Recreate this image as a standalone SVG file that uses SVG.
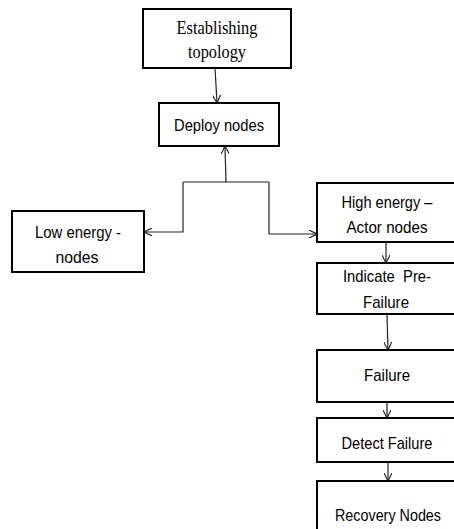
<svg xmlns="http://www.w3.org/2000/svg" width="454" height="529" viewBox="0 0 454 529">
<style>
.box{fill:#fff;stroke:#000;stroke-width:2}
.t{font-family:"Liberation Sans",Arial,sans-serif;font-size:17px;fill:#000;text-anchor:middle}
.s{font-family:"Liberation Serif","Times New Roman",serif;font-size:18px;fill:#000;text-anchor:middle}
.c{fill:none;stroke:#222;stroke-width:1.2}
</style>
<defs>
<marker id="a" viewBox="0 0 10 10" refX="10" refY="5" markerWidth="8" markerHeight="8" orient="auto" markerUnits="userSpaceOnUse">
<path d="M0,0 L10,5 L0,10" fill="none" stroke="#222" stroke-width="1.4"/>
</marker>
</defs>
<rect width="454" height="529" fill="#fff"/>
<g id="connectors">
<path class="c" d="M215,68 L217,103" marker-end="url(#a)"/>
<path class="c" d="M226,182 L225,146" marker-end="url(#a)"/>
<path class="c" d="M183,182 L269,182"/>
<path class="c" d="M183,182 L183,232 L144,232" marker-end="url(#a)"/>
<path class="c" d="M269,182 L269,234 L317,234" marker-end="url(#a)"/>
<path class="c" d="M386,242 L386,263" marker-end="url(#a)"/>
<path class="c" d="M387,314 L388,350" marker-end="url(#a)"/>
<path class="c" d="M387,402 L387,418" marker-end="url(#a)"/>
<path class="c" d="M388,462 L388,481" marker-end="url(#a)"/>
</g>
<g id="establishing">
<rect class="box" x="143" y="9" width="148" height="59"/>
<text class="s" x="217" y="34" textLength="81" lengthAdjust="spacingAndGlyphs">Establishing</text>
<text class="s" x="217" y="58" textLength="58" lengthAdjust="spacingAndGlyphs">topology</text>
</g>
<g id="deploy">
<rect class="box" x="159" y="103" width="120" height="43"/>
<text class="t" x="219" y="131" textLength="90" lengthAdjust="spacingAndGlyphs">Deploy nodes</text>
</g>
<g id="low">
<rect class="box" x="12" y="211" width="132" height="61"/>
<text class="t" x="78" y="238" textLength="86" lengthAdjust="spacingAndGlyphs">Low energy -</text>
<text class="t" x="77" y="263" textLength="43" lengthAdjust="spacingAndGlyphs">nodes</text>
</g>
<g id="high">
<rect class="box" x="317" y="183" width="140" height="59"/>
<text class="t" x="387" y="208" textLength="91" lengthAdjust="spacingAndGlyphs">High energy –</text>
<text class="t" x="387" y="233" textLength="81" lengthAdjust="spacingAndGlyphs">Actor nodes</text>
</g>
<g id="indicate">
<rect class="box" x="317" y="263" width="140" height="51"/>
<text class="t" x="387" y="282" xml:space="preserve" textLength="88" lengthAdjust="spacingAndGlyphs">Indicate  Pre-</text>
<text class="t" x="386" y="308" textLength="46" lengthAdjust="spacingAndGlyphs">Failure</text>
</g>
<g id="failure">
<rect class="box" x="317" y="350" width="140" height="52"/>
<text class="t" x="387" y="381" textLength="46" lengthAdjust="spacingAndGlyphs">Failure</text>
</g>
<g id="detect">
<rect class="box" x="317" y="418" width="140" height="44"/>
<text class="t" x="387" y="449" textLength="91" lengthAdjust="spacingAndGlyphs">Detect Failure</text>
</g>
<g id="recovery">
<rect class="box" x="317" y="481" width="140" height="60"/>
<text class="t" x="388" y="521" textLength="106" lengthAdjust="spacingAndGlyphs">Recovery Nodes</text>
</g>
</svg>
